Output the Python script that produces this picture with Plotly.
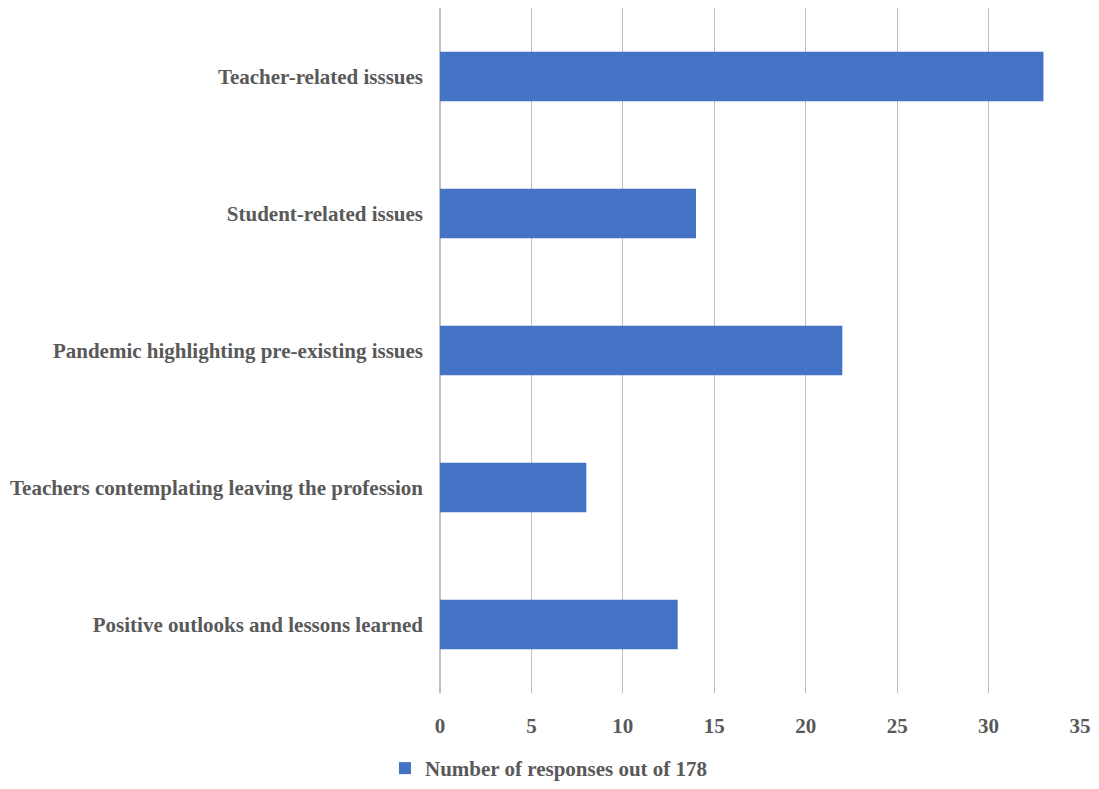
import plotly.graph_objects as go

categories = [
    "Teacher-related isssues",
    "Student-related issues",
    "Pandemic highlighting pre-existing issues",
    "Teachers contemplating leaving the profession",
    "Positive outlooks and lessons learned",
]
values = [33, 14, 22, 8, 13]
series_name = "Number of responses out of 178"
x_ticks = [0, 5, 10, 15, 20, 25, 30, 35]

font_family = "Liberation Serif"
text_color = "#595959"
fsize = 21

fig = go.Figure(
    go.Bar(
        y=categories,
        x=values,
        orientation="h",
        name=series_name,
        marker=dict(color="#4472C4", line=dict(width=0)),
        width=0.36,
        showlegend=True,
    )
)

fig.update_layout(
    width=1091,
    height=781,
    margin=dict(l=432, r=19, t=0, b=87),
    paper_bgcolor="white",
    plot_bgcolor="white",
    font=dict(family=font_family, color=text_color, size=fsize),
    legend=dict(
        orientation="h",
        x=-0.086,
        xanchor="left",
        y=-0.111,
        yanchor="middle",
        font=dict(family=font_family, size=fsize, color=text_color, weight="bold"),
    ),
    xaxis=dict(
        range=[0, 35],
        tickvals=x_ticks,
        showgrid=True,
        gridcolor="#BFBFBF",
        gridwidth=1,
        zeroline=True,
        zerolinecolor="#BFBFBF",
        showline=False,
        tickfont=dict(family=font_family, size=fsize, color=text_color, weight="bold"),
        ticklabelstandoff=18,
        fixedrange=True,
    ),
    yaxis=dict(
        categoryorder="array",
        categoryarray=categories[::-1],
        showgrid=False,
        zeroline=False,
        showline=False,
        ticks="",
        ticklabelstandoff=16,
        tickfont=dict(family=font_family, size=fsize, color=text_color, weight="bold"),
        fixedrange=True,
    ),
)

fig.write_html("out.html")
